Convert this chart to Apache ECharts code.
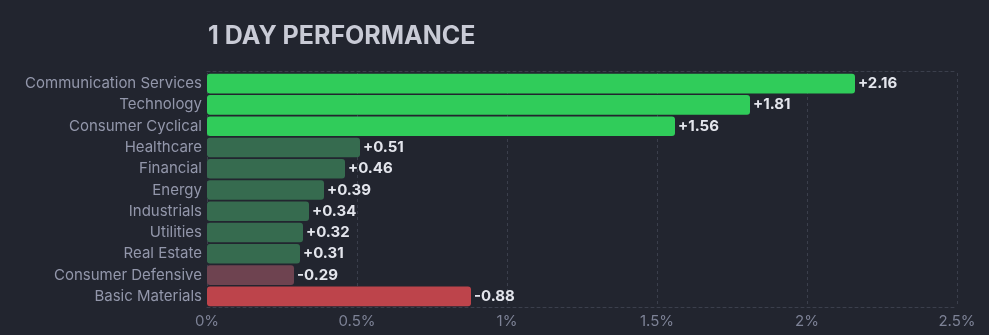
<!DOCTYPE html>
<html>
<head>
<meta charset="utf-8">
<script src="https://cdn.jsdelivr.net/npm/echarts@6/dist/echarts.min.js"></script>
<style>
html,body{margin:0;padding:0;background:#22252f;}
#c{width:989px;height:335px;}
</style>
</head>
<body>
<div id="c"></div>
<script>
const categories = ["Communication Services","Technology","Consumer Cyclical","Healthcare","Financial","Energy","Industrials","Utilities","Real Estate","Consumer Defensive","Basic Materials"];
const values = [2.16, 1.81, 1.56, 0.51, 0.46, 0.39, 0.34, 0.32, 0.31, -0.29, -0.88];
const tickLabels = ["0%","0.5%","1%","1.5%","2%","2.5%"];

function colorFor(v){
  if (v >= 1) return '#30cc5a';
  if (v > 0) return '#366b4f';
  if (v > -0.5) return '#6e4350';
  return '#bd444b';
}

const chart = echarts.init(document.getElementById('c'), null, {renderer:'canvas'});
const gridLine = {color:'#3b3f4c', type:[3,3], width:1};
chart.setOption({
  backgroundColor:'#22252f',
  animation:false,
  title:{
    text:'1 DAY PERFORMANCE',
    left:203, top:19,
    textStyle:{color:'#c9cbd6', fontSize:25, fontWeight:'bold', fontFamily:'Inter, Roboto, sans-serif'}
  },
  grid:{left:207, right:32, top:73, bottom:28, containLabel:false},
  xAxis:[{
    type:'value', min:0, max:2.5, interval:0.5,
    axisLabel:{color:'#7d8296', fontSize:15, fontFamily:'Inter, Roboto, sans-serif', margin:7,
      formatter:function(v){ return tickLabels[Math.round(v/0.5)]; }},
    axisLine:{show:true, lineStyle:gridLine},
    axisTick:{show:false},
    splitLine:{show:true, lineStyle:gridLine}
  },{
    type:'value', min:0, max:2.5, interval:0.5, position:'top', offset:2,
    axisLabel:{show:false}, axisTick:{show:false},
    axisLine:{show:true, lineStyle:gridLine},
    splitLine:{show:false}
  }],
  yAxis:{
    type:'category', data:categories, inverse:true,
    axisLine:{show:false}, axisTick:{show:false},
    axisLabel:{color:'#9397ab', fontSize:15, fontFamily:'Inter, Roboto, sans-serif', margin:5},
    splitLine:{show:false}
  },
  series:[{
    type:'bar',
    xAxisIndex:0,
    barCategoryGap:'8%',
    data: values.map(function(v){
      return {value:Math.abs(v), itemStyle:{color:colorFor(v), borderRadius:3}};
    }),
    label:{
      show:true, position:'right', distance:3,
      color:'#e3e5ec', fontSize:15, fontWeight:'bold', fontFamily:'Inter, Roboto, sans-serif',
      formatter:function(p){ const v = values[p.dataIndex]; return (v>0?'+':'') + v.toFixed(2); }
    }
  }]
});
</script>
</body>
</html>
